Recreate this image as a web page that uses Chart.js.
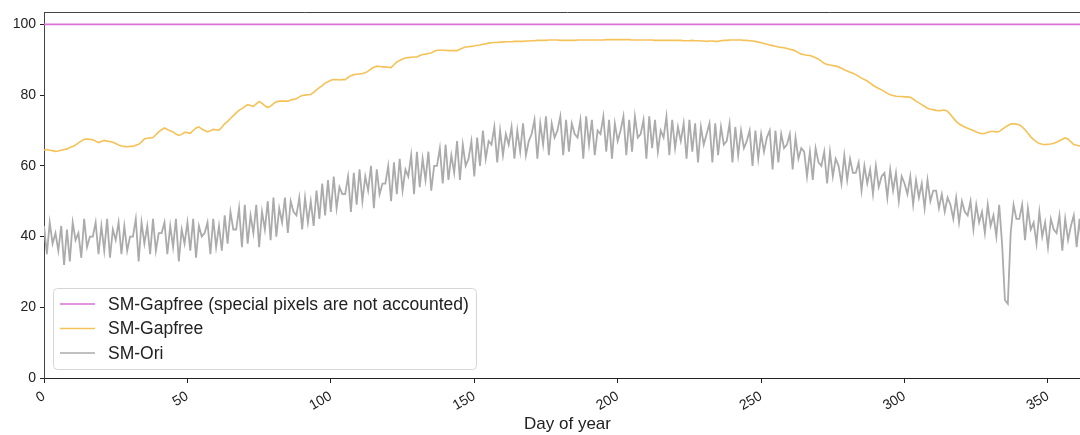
<!DOCTYPE html>
<html><head><meta charset="utf-8">
<script src="https://cdn.jsdelivr.net/npm/chart.js@4.4.1/dist/chart.umd.min.js"></script>
<style>
html,body{margin:0;padding:0;overflow:hidden;background:#fff;width:1080px;height:435px}
#wrap{width:1100px;height:435px;position:relative}
canvas{display:block}
</style></head>
<body><div id="wrap"><canvas id="c" width="1100" height="435" style="width:1100px;height:435px"></canvas></div>
<script>
// ---- data (index = day of year, starting at day 0) ----
const seriesNames = [
  'SM-Gapfree (special pixels are not accounted)',
  'SM-Gapfree',
  'SM-Ori'
];
const seriesColors = ['#da70d6', '#f5c257', '#ababab'];
const xTicks = [0, 50, 100, 150, 200, 250, 300, 350];
const yTicks = [0, 20, 40, 60, 80, 100];
const xLabel = 'Day of year';

const gapfreeAll = [
100,100,100,100,100,100,100,100,100,100,
100,100,100,100,100,100,100,100,100,100,
100,100,100,100,100,100,100,100,100,100,
100,100,100,100,100,100,100,100,100,100,
100,100,100,100,100,100,100,100,100,100,
100,100,100,100,100,100,100,100,100,100,
100,100,100,100,100,100,100,100,100,100,
100,100,100,100,100,100,100,100,100,100,
100,100,100,100,100,100,100,100,100,100,
100,100,100,100,100,100,100,100,100,100,
100,100,100,100,100,100,100,100,100,100,
100,100,100,100,100,100,100,100,100,100,
100,100,100,100,100,100,100,100,100,100,
100,100,100,100,100,100,100,100,100,100,
100,100,100,100,100,100,100,100,100,100,
100,100,100,100,100,100,100,100,100,100,
100,100,100,100,100,100,100,100,100,100,
100,100,100,100,100,100,100,100,100,100,
100,100,100,100,100,100,100,100,100,100,
100,100,100,100,100,100,100,100,100,100,
100,100,100,100,100,100,100,100,100,100,
100,100,100,100,100,100,100,100,100,100,
100,100,100,100,100,100,100,100,100,100,
100,100,100,100,100,100,100,100,100,100,
100,100,100,100,100,100,100,100,100,100,
100,100,100,100,100,100,100,100,100,100,
100,100,100,100,100,100,100,100,100,100,
100,100,100,100,100,100,100,100,100,100,
100,100,100,100,100,100,100,100,100,100,
100,100,100,100,100,100,100,100,100,100,
100,100,100,100,100,100,100,100,100,100,
100,100,100,100,100,100,100,100,100,100,
100,100,100,100,100,100,100,100,100,100,
100,100,100,100,100,100,100,100,100,100,
100,100,100,100,100,100,100,100,100,100,
100,100,100,100,100,100,100,100,100,100,
100,100,100,100,100
];

const gapfree = [
64.5,64.6,64.4,64.3,64.1,64.2,64.4,64.6,64.8,65.2,
65.5,65.9,66.5,67.0,67.5,67.6,67.5,67.4,67.0,66.6,
66.9,67.2,67.0,66.9,66.7,66.3,65.9,65.6,65.5,65.4,
65.5,65.5,65.8,66.1,66.8,67.6,67.8,67.9,68.0,68.8,
69.6,70.2,70.7,70.3,69.9,69.6,69.0,68.6,68.9,69.5,
69.4,69.2,70.0,70.7,71.0,70.4,70.0,69.6,69.9,70.3,
70.2,70.1,70.9,71.9,72.6,73.4,74.2,75.0,75.7,76.2,
76.8,77.3,77.1,76.8,77.5,78.2,77.7,77.0,76.5,76.9,
77.6,78.1,78.3,78.3,78.3,78.3,78.6,78.8,79.0,79.5,
79.9,80.0,80.1,80.2,80.8,81.5,82.1,82.7,83.4,83.8,
84.2,84.4,84.4,84.3,84.4,84.4,85.0,85.5,85.8,85.9,
86.0,86.1,86.3,86.8,87.4,87.9,88.2,88.1,88.0,88.0,
87.9,87.8,88.6,89.4,89.8,90.2,90.5,90.6,90.7,90.8,
90.8,91.2,91.5,91.6,91.8,91.9,92.4,92.7,92.7,92.7,
92.7,92.6,92.6,92.6,92.6,93.0,93.3,93.6,93.7,93.8,
93.9,94.1,94.2,94.4,94.5,94.7,94.8,94.9,94.9,95.0,
95.0,95.1,95.1,95.1,95.2,95.2,95.2,95.2,95.3,95.3,
95.4,95.4,95.5,95.5,95.5,95.5,95.6,95.6,95.6,95.6,
95.5,95.5,95.5,95.5,95.5,95.5,95.6,95.6,95.6,95.6,
95.6,95.6,95.6,95.6,95.6,95.6,95.7,95.7,95.7,95.7,
95.7,95.7,95.7,95.7,95.7,95.6,95.6,95.6,95.6,95.6,
95.6,95.6,95.6,95.5,95.5,95.5,95.5,95.5,95.5,95.5,
95.5,95.5,95.5,95.4,95.4,95.4,95.5,95.4,95.4,95.3,
95.3,95.2,95.3,95.3,95.2,95.2,95.4,95.5,95.5,95.6,
95.6,95.6,95.6,95.6,95.5,95.5,95.4,95.3,95.2,95.0,
94.8,94.6,94.4,94.2,94.0,93.8,93.6,93.5,93.4,93.2,
93.0,92.8,92.5,92.0,91.6,91.4,91.3,91.2,90.9,90.6,
90.2,89.6,89.0,88.7,88.5,88.4,88.2,88.0,87.6,87.2,
86.8,86.5,86.2,85.8,85.3,84.8,84.4,84.0,83.4,82.8,
82.3,81.9,81.5,81.0,80.5,80.1,79.9,79.7,79.6,79.6,
79.5,79.5,79.4,78.9,78.3,77.8,77.3,76.8,76.3,76.0,
75.9,75.7,75.6,75.7,75.8,75.4,74.5,73.5,72.6,71.9,
71.4,71.0,70.6,70.3,70.0,69.6,69.3,69.1,69.2,69.5,
69.7,69.7,69.6,69.7,70.3,70.9,71.4,71.8,71.9,71.8,
71.6,71.0,70.2,69.2,68.2,67.4,66.8,66.3,66.1,66.0,
66.1,66.2,66.4,66.7,67.1,67.5,67.9,67.6,66.8,66.0,
65.8,65.6,65.5,65.5,65.4
];

const original = [
43,35,44,38,41,36,43,32,42,33,
44,39,41,34,45,37,40,40,44,35,
43,36,45,34,42,39,44,35,43,36,
40,40,45,33,44,38,43,35,45,36,
41,41,44,35,43,37,45,33,42,38,
44,36,45,34,43,40,41,44,35,45,
37,43,36,46,38,47,42,42,48,37,
49,38,46,41,49,37,47,42,50,39,
51,40,48,44,51,41,50,47,46,51,
42,51,44,50,43,53,45,55,46,56,
47,57,48,54,52,52,57,47,58,49,
59,50,57,53,60,48,59,52,55,55,
60,50,61,52,62,53,59,57,63,52,
64,54,62,56,64,53,60,60,65,55,
66,56,63,58,67,56,66,60,62,67,
57,68,60,70,62,67,66,71,61,70,
63,69,66,71,62,70,64,72,63,67,
69,73,62,72,66,74,63,72,68,70,
74,63,73,64,72,69,68,73,62,74,
66,73,63,70,69,74,64,73,62,72,
67,70,74,63,73,64,74,68,69,73,
62,74,65,73,64,70,68,74,63,73,
65,71,67,72,62,73,64,72,61,71,
66,69,72,61,72,63,71,66,67,72,
61,71,63,70,65,67,70,60,70,62,
69,64,68,70,59,70,61,69,65,66,
69,59,68,62,65,64,57,64,56,65,
61,60,64,55,64,57,62,60,55,63,
56,62,58,58,61,53,60,55,59,52,
60,54,57,58,51,59,53,58,50,57,
55,52,57,49,56,51,55,48,56,50,
53,53,48,52,47,51,49,45,51,44,
50,47,46,50,42,49,44,47,41,49,
43,46,40,49,38,22,21,41,49,45,
45,49,39,48,42,44,38,47,40,44,
37,45,42,41,46,36,45,39,43,46,
37,45,35,44,41
];

// ---- chart ----
const FONT = "'Liberation Sans', Arial, sans-serif";
const toPoints = arr => arr.map((v, i) => ({ x: i, y: v }));

const framePlugin = {
  id: 'frame',
  afterDatasetsDraw(chart) {
    const { ctx, chartArea: a } = chart;
    ctx.save();
    ctx.strokeStyle = '#444';
    ctx.lineWidth = 1;
    ctx.beginPath();
    ctx.moveTo(a.left, Math.round(a.top) + 0.5);
    ctx.lineTo(a.right, Math.round(a.top) + 0.5);
    ctx.lineTo(a.right, a.bottom);
    ctx.stroke();
    ctx.restore();
  }
};

const legendPlugin = {
  id: 'boxLegend',
  afterDatasetsDraw(chart) {
    const { ctx, chartArea: a } = chart;
    const x0 = a.left + 9, y0 = a.bottom - 90, w = 423, h = 81, r = 4;
    ctx.save();
    ctx.fillStyle = 'rgba(255,255,255,0.85)';
    ctx.strokeStyle = '#d6d6d6';
    ctx.lineWidth = 1;
    ctx.beginPath();
    ctx.roundRect(x0 + 0.5, y0 + 0.5, w, h, r);
    ctx.fill();
    ctx.stroke();
    ctx.font = '17.5px ' + FONT;
    ctx.textBaseline = 'middle';
    ctx.fillStyle = '#222';
    seriesNames.forEach((name, i) => {
      const yy = y0 + 16 + i * 24.5;
      ctx.strokeStyle = seriesColors[i];
      ctx.lineWidth = 1.5;
      ctx.beginPath();
      ctx.moveTo(x0 + 7, yy);
      ctx.lineTo(x0 + 42, yy);
      ctx.stroke();
      ctx.fillText(name, x0 + 55, yy + 1);
    });
    ctx.restore();
  }
};

new Chart(document.getElementById('c'), {
  type: 'line',
  data: {
    datasets: [
      { label: seriesNames[0], data: toPoints(gapfreeAll), borderColor: seriesColors[0], borderWidth: 1.8, order: 2 },
      { label: seriesNames[1], data: toPoints(gapfree), borderColor: seriesColors[1], borderWidth: 1.6, order: 1 },
      { label: seriesNames[2], data: toPoints(original), borderColor: seriesColors[2], borderWidth: 1.8, order: 0 }
    ]
  },
  options: {
    responsive: false,
    animation: false,
    devicePixelRatio: 1,
    layout: { padding: { left: 0, top: 12, right: 9, bottom: 0 } },
    plugins: { legend: { display: false }, tooltip: { enabled: false } },
    elements: { point: { radius: 0 }, line: { tension: 0, fill: false } },
    scales: {
      x: {
        type: 'linear', min: 0, max: 365,
        afterBuildTicks: s => { s.ticks = xTicks.map(v => ({ value: v })); },
        afterFit: s => { s.height = 57; },
        grid: { display: true, drawOnChartArea: false, drawTicks: true, tickLength: 5, tickColor: '#222', color: '#222' },
        border: { display: true, color: '#222', width: 1 },
        ticks: { minRotation: 30, maxRotation: 30, padding: 5, color: '#222', font: { family: FONT, size: 14 } },
        title: { display: true, text: xLabel, color: '#222', font: { family: FONT, size: 17 }, padding: { top: 0, bottom: 0 } }
      },
      y: {
        min: 0, max: 103.4,
        afterBuildTicks: s => { s.ticks = yTicks.map(v => ({ value: v })); },
        afterFit: s => { s.width = 44; },
        grid: { display: true, drawOnChartArea: false, drawTicks: true, tickLength: 4, tickColor: '#222', color: '#222' },
        border: { display: true, color: '#444', width: 1 },
        ticks: { padding: 4, color: '#222', font: { family: FONT, size: 14 } }
      }
    }
  },
  plugins: [framePlugin, legendPlugin]
});
</script>
</body></html>
